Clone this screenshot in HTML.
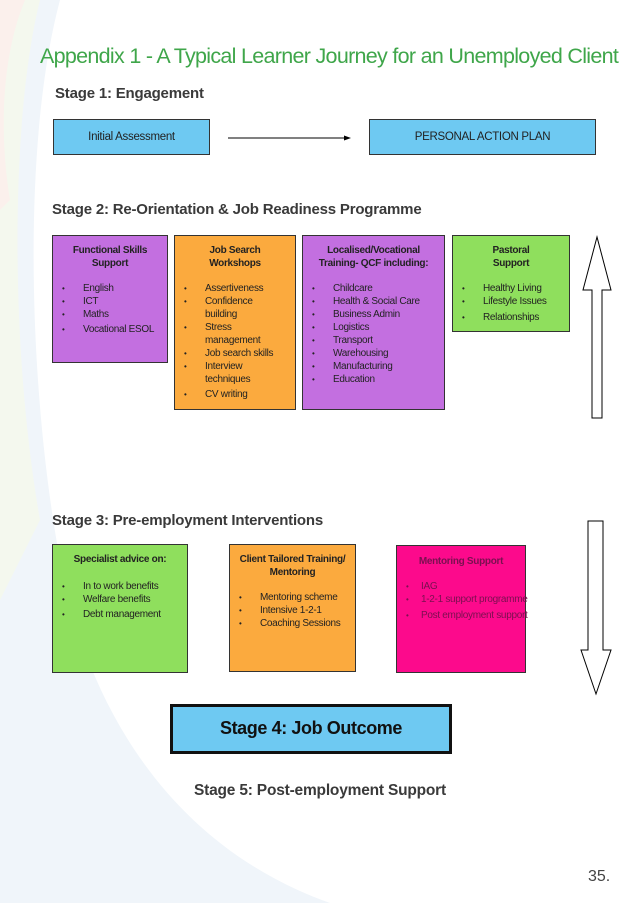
<!DOCTYPE html>
<html><head><meta charset="utf-8"><style>
*{margin:0;padding:0;box-sizing:border-box}
body{width:638px;height:903px;position:relative;background:#fff;font-family:"Liberation Sans",sans-serif;overflow:hidden;color:#222}
.a{position:absolute}
.h{font-weight:bold;color:#3a3a3a;font-size:15px;letter-spacing:-0.2px;white-space:nowrap}
.box{position:absolute;border:1px solid #333;font-size:10px;letter-spacing:-0.3px}
.box .t{font-weight:bold;text-align:center;font-size:10px;line-height:13px;margin-top:8px}
.box ul{list-style:none;margin-top:12px}
.box li{position:relative;padding-left:30px;line-height:13px;white-space:nowrap}
.box li:before{content:"•";position:absolute;left:9px;font-size:8px}
</style></head><body>
<svg class="a" style="left:0;top:0" width="638" height="903">
<path d="M0 0 L60 0 C20 150 30 400 60 560 C90 720 180 850 330 903 L0 903Z" fill="#f0f5fa"/>
<path d="M0 0 L40 0 C10 120 10 350 40 520 L0 600Z" fill="#f4f8ee"/>
<path d="M0 0 L25 0 C0 60 0 140 10 200 L0 210Z" fill="#fbf0ec"/>
<line x1="228" y1="138" x2="346" y2="138" stroke="#000" stroke-width="1"/>
<polygon points="351,138 344,135.5 344,140.5" fill="#000"/>
<polygon points="597,237 583,290 592,290 592,418 602,418 602,290 611,290" fill="#fff" stroke="#000" stroke-width="1"/>
<polygon points="588,521 603,521 603,650 611,650 596,694 581,650 588,650" fill="#fff" stroke="#000" stroke-width="1"/>
</svg>
<div class="a" style="left:40px;top:44px;font-size:21.5px;color:#3fa64a;letter-spacing:-0.7px;white-space:nowrap">Appendix 1 - A Typical Learner Journey for an Unemployed Client</div>
<div class="a h" style="left:55px;top:85px">Stage 1: Engagement</div>
<div class="box" style="left:53px;top:119px;width:157px;height:36px;background:#6ec9f2;text-align:center;line-height:34px;font-size:11.5px">Initial Assessment</div>
<div class="box" style="left:369px;top:119px;width:227px;height:36px;background:#6ec9f2;text-align:center;line-height:34px;font-size:11.5px">PERSONAL ACTION PLAN</div>
<div class="a h" style="left:52px;top:201px">Stage 2: Re-Orientation &amp; Job Readiness Programme</div>
<div class="box" style="left:52px;top:235px;width:116px;height:128px;background:#c36fe0"><div class="t">Functional Skills<br>Support</div><ul><li>English</li><li>ICT</li><li>Maths</li><li style="margin-top:2px">Vocational ESOL</li></ul></div>
<div class="box" style="left:174px;top:235px;width:122px;height:175px;background:#fbaa3e"><div class="t">Job Search<br>Workshops</div><ul><li>Assertiveness</li><li>Confidence<br>building</li><li>Stress<br>management</li><li>Job search skills</li><li>Interview<br>techniques</li><li style="margin-top:2px">CV writing</li></ul></div>
<div class="box" style="left:302px;top:235px;width:143px;height:175px;background:#c36fe0"><div class="t">Localised/Vocational<br>Training- QCF including:</div><ul><li>Childcare</li><li>Health &amp; Social Care</li><li>Business Admin</li><li>Logistics</li><li>Transport</li><li>Warehousing</li><li>Manufacturing</li><li>Education</li></ul></div>
<div class="box" style="left:452px;top:235px;width:118px;height:97px;background:#8fdf5d"><div class="t">Pastoral<br>Support</div><ul><li>Healthy Living</li><li>Lifestyle Issues</li><li style="margin-top:3px">Relationships</li></ul></div>
<div class="a h" style="left:52px;top:512px">Stage 3: Pre-employment Interventions</div>
<div class="box" style="left:52px;top:544px;width:136px;height:129px;background:#8fdf5d"><div class="t">Specialist advice on:</div><ul style="margin-top:14px"><li>In to work benefits</li><li>Welfare benefits</li><li style="margin-top:2px">Debt management</li></ul></div>
<div class="box" style="left:229px;top:544px;width:127px;height:128px;background:#fbaa3e"><div class="t">Client Tailored Training/<br>Mentoring</div><ul style="margin-top:12px"><li>Mentoring scheme</li><li>Intensive 1-2-1</li><li>Coaching Sessions</li></ul></div>
<div class="box" style="left:396px;top:545px;width:130px;height:128px;background:#fc0a8c;color:#7a1050"><div class="t" style="margin-top:9px">Mentoring Support</div><ul style="margin-top:12px"><li style="padding-left:24px">IAG</li><li style="padding-left:24px">1-2-1 support programme</li><li style="padding-left:24px;margin-top:3px">Post employment support</li></ul></div>
<div class="a" style="left:170px;top:704px;width:282px;height:50px;background:#6ec9f2;border:3.5px solid #111;text-align:center;line-height:43px;font-weight:bold;font-size:18px;letter-spacing:-0.4px;color:#111">Stage 4: Job Outcome</div>
<div class="a h" style="left:194px;top:782px;font-size:15.5px">Stage 5: Post-employment Support</div>
<div class="a" style="left:588px;top:868px;font-size:16px;color:#444">35.</div>
</body></html>
